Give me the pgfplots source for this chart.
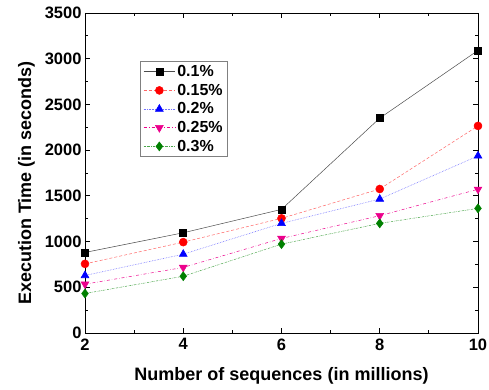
\documentclass[border=0pt]{standalone}
\usepackage{fontspec}
\setmainfont{Liberation Sans}
\usepackage{pgfplots}
\pgfplotsset{compat=1.18}
\begin{document}
\begin{tikzpicture}
\begin{axis}[
  name=ax,
  scale only axis,
  width=393pt, height=320pt,
  xmin=2, xmax=10, ymin=0, ymax=3500,
  xtick={2,4,6,8,10},
  ytick={0,500,1000,1500,2000,2500,3000,3500},
  minor x tick num=1, minor y tick num=1,
  tick align=inside, tick pos=both,
  major tick length=5pt, minor tick length=3pt,
  axis line style={line width=0.8pt},
  every tick/.style={line width=0.8pt},
  /pgf/number format/assume math mode=true,
  /pgf/number format/1000 sep={},
  ticklabel style={font=\fontsize{16.5}{16.5}\selectfont\bfseries},
  xticklabel style={yshift=-2pt},
  label style={font=\fontsize{18}{18}\selectfont\bfseries},
  xlabel={Number of sequences (in millions)},
  ylabel={Execution Time (in seconds)},
  xlabel style={yshift=-10pt},
  ylabel style={yshift=3pt, xshift=-10pt},
  legend style={at={(axis description cs:0.14,0.85)}, anchor=north west,
    font=\fontsize{16}{16}\selectfont\bfseries, draw=gray, line width=0.8pt,
    inner xsep=3pt, inner ysep=2pt, row sep=2pt},
  legend cell align=left,
  legend image code/.code={\draw[mark repeat=2,mark phase=2] plot coordinates {(0cm,0cm) (0.55cm,0cm) (1.1cm,0cm)};},
]
\addplot[black!70, line width=0.5pt, mark=square*, mark size=3.5pt, mark options={solid,black,fill=black}]
  coordinates {(2,881) (4,1096) (6,1352) (8,2350) (10,3091)};
\addlegendentry{0.1\%}
\addplot[red!60, densely dashed, line width=0.5pt, mark=*, mark size=4pt, mark options={solid,red,fill=red}]
  coordinates {(2,756) (4,994) (6,1254) (8,1575) (10,2265)};
\addlegendentry{0.15\%}
\addplot[blue!55, densely dotted, line width=0.6pt, mark=triangle*, mark size=4.5pt, mark options={solid,blue,fill=blue}]
  coordinates {(2,629) (4,862) (6,1199) (8,1465) (10,1937)};
\addlegendentry{0.2\%}
\addplot[magenta, dashdotted, line width=0.5pt, mark=triangle*, mark size=4.5pt, mark options={solid,magenta,fill=magenta,rotate=180}]
  coordinates {(2,534) (4,717) (6,1034) (8,1283) (10,1572)};
\addlegendentry{0.25\%}
\addplot[green!50!black!70, dash pattern=on 2pt off 1pt on 0.5pt off 1pt, line width=0.5pt, mark=diamond*, mark size=4.5pt, mark options={solid,green!50!black,fill=green!50!black}]
  coordinates {(2,432) (4,621) (6,972) (8,1199) (10,1363)};
\addlegendentry{0.3\%}
\end{axis}
\pgfresetboundingbox
\useasboundingbox ([xshift=-85pt,yshift=-57pt]ax.south west) rectangle ([xshift=11pt,yshift=13pt]ax.north east);
\end{tikzpicture}
\end{document}
